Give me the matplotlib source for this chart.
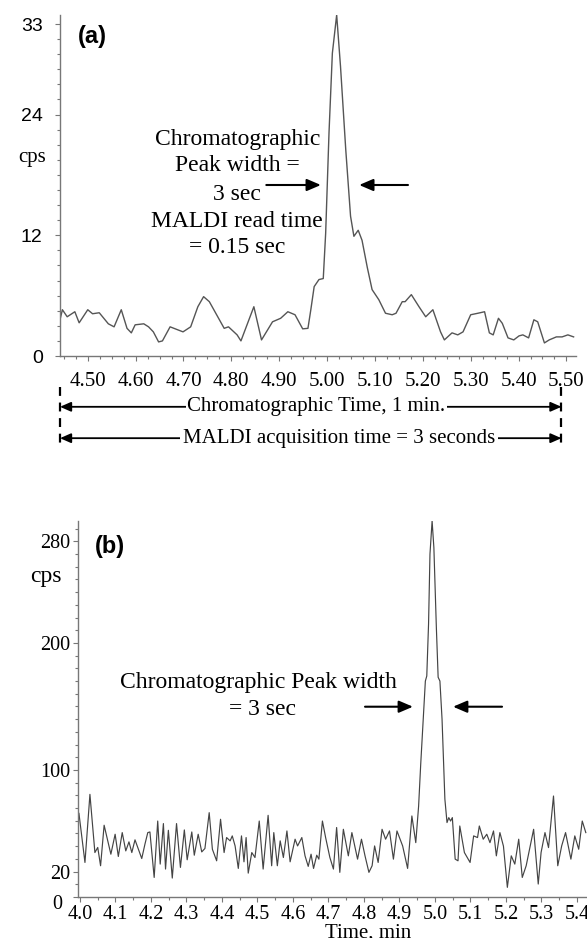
import matplotlib
matplotlib.use("Agg")
import numpy as np
from matplotlib import pyplot as plt
from matplotlib.ticker import MultipleLocator, FixedLocator

plt.rcParams['font.family'] = ['Liberation Serif', 'DejaVu Serif']
SANS = ['Liberation Sans', 'DejaVu Sans']

# ---- panel (a): MALDI read, 1 min window ----
time_a = [4.442, 4.447, 4.457, 4.473, 4.482, 4.500, 4.510, 4.524, 4.543, 4.555,
          4.570, 4.582, 4.591, 4.599, 4.617, 4.627, 4.637, 4.648, 4.656, 4.672,
          4.699, 4.715, 4.730, 4.742, 4.754, 4.785, 4.794, 4.812, 4.820, 4.847,
          4.863, 4.886, 4.903, 4.918, 4.933, 4.949, 4.960, 4.966, 4.973, 4.983,
          4.992, 4.997, 5.004, 5.011, 5.020, 5.028, 5.039, 5.049, 5.056, 5.065,
          5.073, 5.084, 5.094, 5.108, 5.122, 5.136, 5.144, 5.157, 5.163, 5.176,
          5.192, 5.206, 5.221, 5.237, 5.245, 5.261, 5.273, 5.284, 5.300, 5.315,
          5.329, 5.339, 5.347, 5.358, 5.366, 5.378, 5.390, 5.401, 5.409, 5.421,
          5.432, 5.440, 5.454, 5.464, 5.479, 5.491, 5.503, 5.515]
cps_a = [3.6, 4.6, 3.9, 4.4, 3.3, 4.6, 4.2, 4.3, 3.2, 2.9,
         4.6, 2.75, 2.3, 3.1, 3.2, 2.9, 2.4, 1.4, 1.5, 2.9,
         2.4, 2.9, 4.9, 5.9, 5.4, 2.75, 2.9, 2.1, 1.5, 4.9,
         1.6, 3.4, 3.75, 4.4, 4.1, 2.7, 2.75, 4.6, 6.9, 7.6,
         7.7, 12.2, 22.2, 30.1, 33.9, 28.8, 20.5, 13.9, 11.9, 12.5,
         11.5, 8.8, 6.6, 5.6, 4.25, 4.1, 4.25, 5.4, 5.4, 6.1,
         4.9, 3.9, 4.6, 2.4, 1.6, 2.3, 2.1, 2.4, 4.1, 4.25,
         4.4, 2.3, 2.1, 3.75, 3.25, 1.8, 1.6, 2.0, 2.1, 1.8,
         3.6, 3.4, 1.3, 1.6, 1.9, 1.9, 2.1, 1.9]
xticks_a = [4.50, 4.60, 4.70, 4.80, 4.90, 5.00, 5.10, 5.20, 5.30, 5.40, 5.50]
yticks_a = [0, 12, 24, 33]

# ---- panel (b): chromatographic trace ----
time_b = [3.993, 3.997, 4.014, 4.028, 4.042, 4.050, 4.058, 4.068, 4.087, 4.099,
          4.108, 4.119, 4.129, 4.138, 4.146, 4.155, 4.174, 4.183, 4.191, 4.197,
          4.209, 4.219, 4.226, 4.235, 4.241, 4.249, 4.260, 4.272, 4.283, 4.294,
          4.302, 4.315, 4.322, 4.333, 4.343, 4.352, 4.364, 4.373, 4.385, 4.396,
          4.406, 4.413, 4.423, 4.429, 4.437, 4.446, 4.455, 4.462, 4.468, 4.474,
          4.484, 4.493, 4.505, 4.516, 4.530, 4.540, 4.546, 4.556, 4.564, 4.573,
          4.583, 4.592, 4.606, 4.613, 4.625, 4.634, 4.643, 4.651, 4.658, 4.667,
          4.673, 4.683, 4.692, 4.704, 4.714, 4.723, 4.732, 4.742, 4.756, 4.766,
          4.782, 4.793, 4.803, 4.814, 4.823, 4.830, 4.840, 4.851, 4.861, 4.872,
          4.883, 4.893, 4.909, 4.923, 4.935, 4.946, 4.954, 4.960, 4.967, 4.973,
          4.977, 4.982, 4.986, 4.992, 4.997, 5.004, 5.009, 5.014, 5.020, 5.025,
          5.028, 5.034, 5.039, 5.044, 5.049, 5.057, 5.065, 5.070, 5.083, 5.099,
          5.109, 5.120, 5.125, 5.136, 5.146, 5.155, 5.165, 5.173, 5.183, 5.193,
          5.204, 5.215, 5.225, 5.236, 5.246, 5.257, 5.278, 5.291, 5.299, 5.310,
          5.320, 5.334, 5.346, 5.357, 5.368, 5.383, 5.394, 5.405, 5.415, 5.425]
cps_b = [58, 66, 27.2, 80.8, 35, 39, 24.6, 56.5, 33.7, 49.4,
         31.9, 50.7, 36.3, 43.4, 35, 45, 30.3, 41.6, 50.7, 51.2,
         15.4, 59.8, 25.9, 57.8, 22, 52.5, 14.9, 57.8, 23.3, 52.8,
         29.3, 51.2, 32.9, 49.4, 35.5, 38.2, 66.4, 37.6, 28.5, 61.2,
         35, 46.8, 44.2, 48.1, 40.2, 22.5, 48.1, 27.7, 46.8, 18.8,
         35, 31.1, 59.8, 22, 64.3, 24.6, 50.7, 24.6, 44.2, 31.1,
         52, 27.7, 45.5, 40.2, 46.8, 32.4, 24.1, 33.7, 22.5, 32.9,
         29.8, 59.8, 46.8, 31.1, 22, 54.7, 19.4, 53.3, 32.4, 50.7,
         29.8, 45.5, 32.4, 19.4, 24.6, 40.2, 27.2, 53.3, 45.5, 52,
         29.8, 52, 40.2, 22.5, 63.8, 42.8, 71.6, 105, 140, 170,
         174, 215, 270, 296, 275, 212, 173, 170, 140, 100,
         77, 58.6, 62.5, 59.8, 62.5, 29.8, 28.5, 55.9, 35, 27.2,
         48.1, 46.8, 55.9, 45.5, 49.4, 42.8, 52, 32.4, 50.7, 40,
         7.6, 32.4, 25.9, 45.5, 15.4, 24.6, 53.3, 10.2, 35, 50.7,
         38.9, 79.5, 24.6, 40.2, 50.7, 29.8, 48.1, 37.6, 59.8, 50.7]
xticks_b = [4.0, 4.1, 4.2, 4.3, 4.4, 4.5, 4.6, 4.7, 4.8, 4.9, 5.0, 5.1, 5.2, 5.3, 5.4]
yticks_b = [0, 20, 100, 200, 280]

assert len(time_a) == len(cps_a) and len(time_b) == len(cps_b)

W, H = 587, 938
fig = plt.figure(figsize=(W / 100, H / 100), dpi=100)

def rect(left, top, right, bottom):
    return [left / W, 1 - bottom / H, (right - left) / W, (bottom - top) / H]

def style_axes(ax):
    for s in ['top', 'right']:
        ax.spines[s].set_visible(False)
    for s in ['left', 'bottom']:
        ax.spines[s].set_color('#777777')
        ax.spines[s].set_linewidth(1.0)
    ax.tick_params(which='both', color='#777777', width=0.8)
    ax.tick_params(which='major', length=3.5)
    ax.tick_params(which='minor', length=2)

def arrow(ax, tail, tip, head="-|>,head_length=0.7,head_width=0.3", lw=1.5, ms=12, **kw):
    ax.annotate('', xy=tip, xytext=tail, annotation_clip=False,
                arrowprops=dict(arrowstyle=head, color='black', lw=lw,
                                shrinkA=0, shrinkB=0, mutation_scale=ms), **kw)

# ---------------- panel (a) ----------------
ax1 = fig.add_axes(rect(60, 15, 576, 356))
ax1.plot(time_a, cps_a, color='#555555', lw=1.0)
ax1.set_xlim(4.442, 5.52)
ax1.set_ylim(0, 33.9)
style_axes(ax1)
ax1.xaxis.set_major_locator(FixedLocator(xticks_a))
ax1.set_xticklabels([f"{t:.2f}" for t in xticks_a], fontsize=15)
ax1.xaxis.set_minor_locator(MultipleLocator(0.025))
ax1.yaxis.set_major_locator(FixedLocator(yticks_a))
ax1.set_yticklabels([str(v) for v in yticks_a], fontsize=14, family=SANS)
ax1.yaxis.set_minor_locator(MultipleLocator(1.5))
ax1.tick_params(axis='x', which='major', pad=8)
ax1.tick_params(axis='y', which='major', pad=9)

ann_a = ["Chromatographic", "Peak width =", "3 sec", "MALDI read time", "= 0.15 sec"]
base_a = [21.0, 18.35, 15.55, 12.85, 10.2]
for line, yb in zip(ann_a, base_a):
    ax1.text(4.8125, yb, line, ha='center', va='baseline', fontsize=17)
arrow(ax1, (4.873, 17.0), (4.987, 17.0))
arrow(ax1, (5.169, 17.0), (5.067, 17.0))

# time span markers below the axis
xt = ax1.get_xaxis_transform()
for xv in [4.442, 5.4896]:
    ax1.plot([xv, xv], [-0.09, -0.27], transform=xt, clip_on=False,
             color='black', lw=1.6, ls=(0, (4, 3)))
span_head = "<|-|>,head_length=0.5,head_width=0.22"
arrow(ax1, (4.442, -0.149), (5.4896, -0.149), head=span_head, lw=1.3, ms=13, xycoords=xt, textcoords=xt)
arrow(ax1, (4.442, -0.241), (5.4896, -0.241), head=span_head, lw=1.3, ms=13, xycoords=xt, textcoords=xt)
ax1.text(4.977, -0.149, "Chromatographic Time, 1 min.", transform=xt, ha='center', va='center',
         fontsize=15, bbox=dict(facecolor='white', edgecolor='none', pad=1))
ax1.text(5.025, -0.241, "MALDI acquisition time = 3 seconds", transform=xt, ha='center', va='center',
         fontsize=15, bbox=dict(facecolor='white', edgecolor='none', pad=2))

fig.text(92 / W, 1 - 37 / H, "(a)", ha='center', va='center', fontsize=17,
         fontweight='bold', family=SANS)
fig.text(32 / W, 1 - 157 / H, "cps", ha='center', va='center', fontsize=15)

# ---------------- panel (b) ----------------
ax2 = fig.add_axes(rect(77.5, 521, 600, 897))
ax2.plot(time_b, cps_b, color='#444444', lw=0.85)
ax2.set_xlim(3.993, 5.465)
ax2.set_ylim(0, 296)
style_axes(ax2)
ax2.xaxis.set_major_locator(FixedLocator(xticks_b))
ax2.set_xticklabels([f"{t:.1f}" for t in xticks_b], fontsize=14.5)
ax2.xaxis.set_minor_locator(MultipleLocator(0.05))
ax2.yaxis.set_major_locator(FixedLocator(yticks_b))
# the zero label sits lower-left of the corner, drawn separately below
ax2.set_yticklabels([str(v) if v else "" for v in yticks_b], fontsize=14.5)
ax2.yaxis.set_minor_locator(MultipleLocator(10))
ax2.tick_params(axis='x', which='major', pad=2)
ax2.tick_params(axis='y', which='major', pad=2)
fig.text(57 / W, 1 - 904 / H, "0", ha='center', va='center', fontsize=14.5)

ax2.text(4.503, 164.5, "Chromatographic Peak width", ha='center', va='baseline', fontsize=17)
ax2.text(4.513, 143.5, "= 3 sec", ha='center', va='baseline', fontsize=17)
arrow(ax2, (4.803, 149.8), (4.938, 149.8))
arrow(ax2, (5.189, 149.8), (5.051, 149.8))

ax2.text(4.811, -0.097, "Time, min", transform=ax2.get_xaxis_transform(),
         ha='center', va='center', fontsize=15)

fig.text(110 / W, 1 - 546 / H, "(b)", ha='center', va='center', fontsize=17,
         fontweight='bold', family=SANS)
fig.text(46 / W, 1 - 576 / H, "cps", ha='center', va='center', fontsize=17)

fig.savefig("out.png", dpi=100)
